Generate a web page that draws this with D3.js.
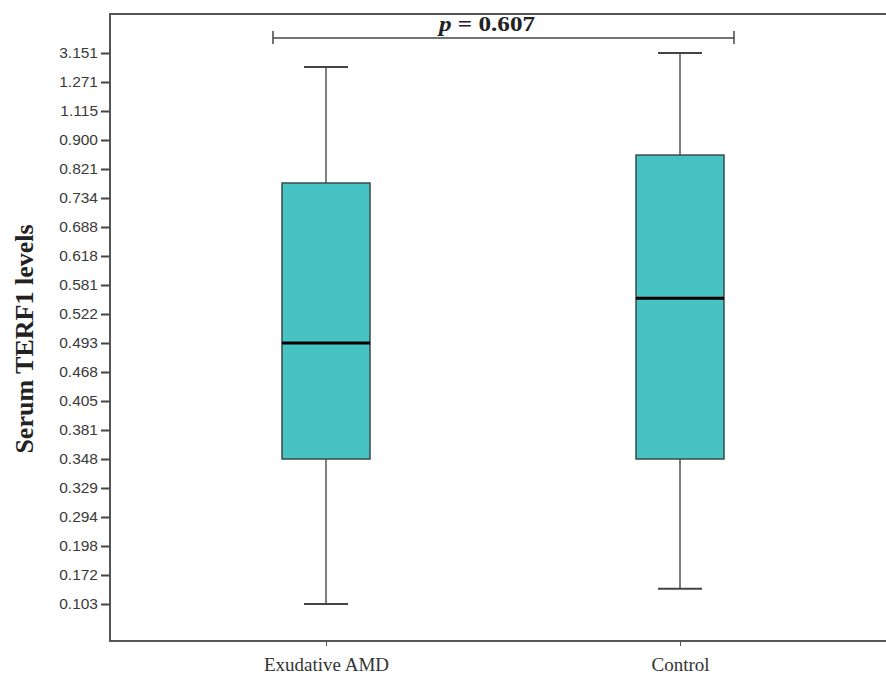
<!DOCTYPE html>
<html>
<head>
<meta charset="utf-8">
<script src="https://d3js.org/d3.v7.min.js"></script>
<style>
  body { margin: 0; background: #fff; }
  svg { display: block; }
</style>
</head>
<body>
<div id="wrapper"></div>
<script>
// y axis tick labels, top to bottom (the axis is not linear: ticks are evenly spaced)
var tickValues = [3.151, 1.271, 1.115, 0.900, 0.821, 0.734, 0.688, 0.618, 0.581, 0.522,
                  0.493, 0.468, 0.405, 0.381, 0.348, 0.329, 0.294, 0.198, 0.172, 0.103];

var groups = ["Exudative AMD", "Control"];
var whiskerHigh = [2.25, 3.151];
var q3 = [0.779, 0.859];
var median = [0.493, 0.554];
var q1 = [0.348, 0.348];
var whiskerLow = [0.103, 0.139];
var pText = "0.607";

var width = 886, height = 678;
var margin = {left: 110, top: 14, right: 0, bottom: 37};
var serif = "'Liberation Serif', 'Times New Roman', Times, serif";
var sans = "'Liberation Sans', Arial, sans-serif";

var svg = d3.select('#wrapper')
            .append('svg')
            .attr('width', width)
            .attr('height', height);

// polylinear scale: each tick value gets an evenly spaced position
var firstY = 53, stepY = 29;
var y = d3.scaleLinear()
          .domain(tickValues)
          .range(tickValues.map(function(d, i) { return firstY + i * stepY; }));

var x = d3.scalePoint()
          .domain(groups)
          .range([326, 680]);

var boxes = groups.map(function(g, i) {
    return {name: g, hi: whiskerHigh[i], q3: q3[i], med: median[i], q1: q1[i], lo: whiskerLow[i]};
});

var axisColor = "#555";

// frame: top line runs to the right edge
svg.append("line")
   .attr("x1", margin.left).attr("x2", width)
   .attr("y1", margin.top).attr("y2", margin.top)
   .attr("stroke", axisColor).attr("stroke-width", 2);

// y axis
var yAxis = svg.append("g")
               .attr("transform", "translate(" + margin.left + ",0)")
               .call(d3.axisLeft(y).tickValues(tickValues).tickFormat(d3.format(".3f")).tickSize(9).tickSizeOuter(0))
               .attr("font-family", sans)
               .attr("font-size", 15.5);
yAxis.select(".domain").remove();
yAxis.selectAll(".tick line").attr("stroke", "#444").attr("stroke-width", 2);
yAxis.selectAll(".tick text")
     .attr("x", -12)
     .attr("fill", "#3a3a3a");
svg.append("line")
   .attr("x1", margin.left).attr("x2", margin.left)
   .attr("y1", margin.top - 1).attr("y2", 642)
   .attr("stroke", axisColor).attr("stroke-width", 2);

// x axis
var xAxis = svg.append("g")
               .attr("transform", "translate(0,641)")
               .call(d3.axisBottom(x).tickSize(5).tickSizeOuter(0))
               .attr("font-family", serif)
               .attr("font-size", 19);
xAxis.select(".domain").remove();
xAxis.selectAll(".tick line").attr("stroke", "#555");
xAxis.selectAll(".tick text")
     .attr("y", 17)
     .attr("fill", "#333");
svg.append("line")
   .attr("x1", margin.left - 1).attr("x2", width)
   .attr("y1", 641).attr("y2", 641)
   .attr("stroke", axisColor).attr("stroke-width", 2);

// y title
svg.append("text")
   .attr("transform", "translate(33,339) rotate(-90)")
   .attr("text-anchor", "middle")
   .attr("font-family", serif)
   .attr("font-weight", "bold")
   .attr("font-size", 26)
   .attr("fill", "#222")
   .text("Serum TERF1 levels");

// boxes
var boxW = 88, capW = 44;
var g = svg.selectAll("g.box")
           .data(boxes)
           .enter()
           .append("g")
           .attr("class", "box");

g.append("line")
 .attr("x1", function(d) { return x(d.name); })
 .attr("x2", function(d) { return x(d.name); })
 .attr("y1", function(d) { return y(d.hi); })
 .attr("y2", function(d) { return y(d.lo); })
 .attr("stroke", "#555").attr("stroke-width", 1.5);

g.selectAll("line.cap")
 .data(function(d) { return [{x: x(d.name), v: d.hi}, {x: x(d.name), v: d.lo}]; })
 .enter()
 .append("line")
 .attr("class", "cap")
 .attr("x1", function(d) { return d.x - capW / 2; })
 .attr("x2", function(d) { return d.x + capW / 2; })
 .attr("y1", function(d) { return y(d.v); })
 .attr("y2", function(d) { return y(d.v); })
 .attr("stroke", "#444").attr("stroke-width", 2);

g.append("rect")
 .attr("x", function(d) { return x(d.name) - boxW / 2; })
 .attr("y", function(d) { return y(d.q3); })
 .attr("width", boxW)
 .attr("height", function(d) { return y(d.q1) - y(d.q3); })
 .attr("fill", "#48c3c3")
 .attr("stroke", "#3a4a4a")
 .attr("stroke-width", 1.5);

g.append("line")
 .attr("x1", function(d) { return x(d.name) - boxW / 2; })
 .attr("x2", function(d) { return x(d.name) + boxW / 2; })
 .attr("y1", function(d) { return y(d.med); })
 .attr("y2", function(d) { return y(d.med); })
 .attr("stroke", "#000").attr("stroke-width", 3);

// p value bracket
var bx1 = 273, bx2 = 734, by = 38;
svg.append("line")
   .attr("x1", bx1).attr("x2", bx2).attr("y1", by).attr("y2", by)
   .attr("stroke", "#444").attr("stroke-width", 1.5);
[bx1, bx2].forEach(function(bx) {
    svg.append("line")
       .attr("x1", bx).attr("x2", bx).attr("y1", by - 7).attr("y2", by + 6)
       .attr("stroke", "#444").attr("stroke-width", 1.5);
});
var pt = svg.append("text")
            .attr("transform", "translate(487,31) scale(1.2,1)")
            .attr("text-anchor", "middle")
            .attr("font-family", serif)
            .attr("font-weight", "bold")
            .attr("font-size", 21)
            .attr("fill", "#222");
pt.append("tspan").attr("font-style", "italic").text("p");
pt.append("tspan").text(" = " + pText);
</script>
</body>
</html>
